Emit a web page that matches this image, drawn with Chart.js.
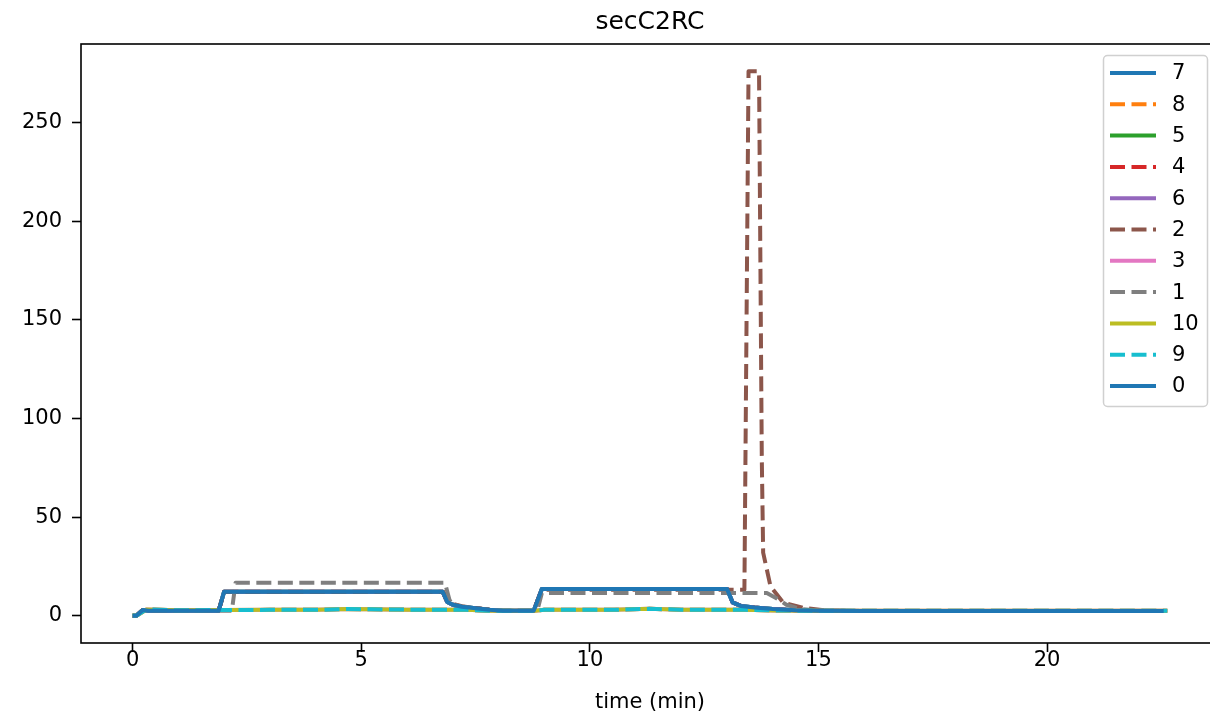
<!DOCTYPE html>
<html>
<head>
<meta charset="utf-8">
<script src="https://cdn.jsdelivr.net/npm/chart.js@4"></script>
<style>
  body { margin: 0; overflow: hidden; background: #fff; }
</style>
</head>
<body>
<canvas id="chart" width="1222" height="720"></canvas>
<script>
// values (time in min, signal)
const tBlue = [0, 0.08, 0.22, 0.35, 1.88, 2.0, 6.78, 6.88, 7.0, 7.2, 7.5, 7.8, 8.1, 8.77, 8.95, 13.0, 13.12, 13.3, 13.6, 14.0, 14.5, 15.0, 16.0, 22.55];
const vBlue = [0, 0, 2.9, 2.5, 2.5, 12.2, 12.2, 7.0, 5.6, 4.6, 3.8, 3.0, 2.5, 2.5, 13.6, 13.6, 6.8, 5.0, 4.2, 3.4, 2.8, 2.5, 2.4, 2.4];

const tLow = [0, 0.1, 0.3, 1.0, 2.0, 3.0, 4.0, 4.7, 5.2, 6.0, 6.8, 7.3, 7.8, 8.8, 9.0, 10.5, 11.3, 12.0, 13.0, 13.4, 14.0, 15.0, 22.63];
const vLow = [0, 0.3, 3.2, 2.8, 2.9, 3.0, 3.0, 3.4, 3.3, 3.1, 3.0, 3.0, 2.6, 2.5, 3.0, 3.0, 3.5, 3.1, 3.0, 3.0, 2.7, 2.5, 2.5];

const tGray = [0, 0.08, 0.22, 0.35, 2.17, 2.25, 6.83, 6.93, 7.0, 7.2, 7.5, 7.8, 8.1, 8.85, 8.95, 13.87, 14.07, 14.3, 14.6, 15.0, 16.0, 22.55];
const vGray = [0, 0, 2.9, 2.5, 2.5, 16.7, 16.7, 8.0, 5.8, 4.7, 3.8, 3.0, 2.5, 2.5, 11.6, 11.6, 9.0, 5.6, 3.5, 2.6, 2.4, 2.4];

const tBrown = [0, 0.08, 0.22, 0.35, 1.88, 2.0, 6.8, 6.9, 7.0, 7.2, 7.5, 7.8, 8.1, 8.77, 8.95, 13.0, 13.38, 13.47, 13.70, 13.76, 13.79, 13.95, 14.23, 14.66, 15.2, 16.0, 22.55];
const vBrown = [0, 0, 2.9, 2.5, 2.5, 12.0, 12.0, 7.5, 6.0, 4.8, 3.9, 3.1, 2.5, 2.5, 13.2, 13.2, 13.2, 276, 276, 80, 32, 15, 6.6, 4.0, 2.6, 2.4, 2.4];

const seriesLabels = ['7', '8', '5', '4', '6', '2', '3', '1', '10', '9', '0'];
const seriesTimes  = [tBlue, tLow, tBlue, tBlue, tBlue, tBrown, tLow, tGray, tLow, tLow, tBlue];
const seriesValues = [vBlue, vLow, vBlue, vBlue, vBlue, vBrown, vLow, vGray, vLow, vLow, vBlue];
const seriesDashed = [false, true, false, true, false, true, false, true, false, true, false];
const seriesColors = ['#1f77b4', '#ff7f0e', '#2ca02c', '#d62728', '#9467bd', '#8c564b', '#e377c2', '#7f7f7f', '#bcbd22', '#17becf', '#1f77b4'];

const xTicks = [0, 5, 10, 15, 20];
const yTicks = [0, 50, 100, 150, 200, 250];

const DASH = [15, 6.5];
const FONT = 'DejaVu Sans';
const TITLE = 'secC2RC';

const datasets = seriesLabels.map((label, i) => ({
    label: label,
    data: seriesTimes[i].map((t, j) => ({ x: t, y: seriesValues[i][j] })),
    borderColor: seriesColors[i],
    backgroundColor: seriesColors[i],
    borderWidth: 4,
    borderDash: seriesDashed[i] ? DASH : [],
    borderCapStyle: 'butt',
    borderJoinStyle: 'round',
    pointRadius: 0,
    tension: 0,
    fill: false,
    // later series drawn on top, like matplotlib
    order: seriesLabels.length - i
}));

// frame, title over the axes and legend inside them
const frameAndLegend = {
    id: 'frameAndLegend',
    afterDatasetsDraw(chart) {
        const ctx = chart.ctx;
        const a = chart.chartArea;
        ctx.save();
        ctx.strokeStyle = '#000';
        ctx.lineWidth = 1.6;
        ctx.strokeRect(a.left, a.top, a.right - a.left, a.bottom - a.top);

        ctx.fillStyle = '#000';
        ctx.font = '25px "' + FONT + '"';
        ctx.textAlign = 'center';
        ctx.textBaseline = 'alphabetic';
        ctx.fillText(TITLE, (a.left + a.right) / 2, 29);

        // legend box
        const bx = 1103.5, by = 55.5, bw = 104, bh = 351;
        ctx.beginPath();
        ctx.roundRect(bx, by, bw, bh, 4);
        ctx.fillStyle = 'rgba(255,255,255,0.8)';
        ctx.fill();
        ctx.strokeStyle = '#d0d0d0';
        ctx.lineWidth = 1.5;
        ctx.stroke();

        ctx.font = '21px "' + FONT + '"';
        ctx.textBaseline = 'middle';
        ctx.textAlign = 'left';
        seriesLabels.forEach((label, i) => {
            const y = 73 + i * 31.3;
            ctx.beginPath();
            ctx.setLineDash(seriesDashed[i] ? DASH : []);
            ctx.lineCap = 'butt';
            ctx.strokeStyle = seriesColors[i];
            ctx.lineWidth = 4;
            ctx.moveTo(1110, y);
            ctx.lineTo(1156, y);
            ctx.stroke();
            ctx.setLineDash([]);
            ctx.fillStyle = '#000';
            ctx.fillText(label, 1172, y + 1);
        });
        ctx.restore();
    }
};

new Chart(document.getElementById('chart'), {
    type: 'line',
    data: { datasets: datasets },
    options: {
        responsive: false,
        animation: false,
        devicePixelRatio: 1,
        layout: { padding: { left: 0, right: 3, top: 44, bottom: 0 } },
        plugins: {
            legend: { display: false },
            tooltip: { enabled: false },
            title: { display: false }
        },
        scales: {
            x: {
                type: 'linear',
                min: -1.13,
                max: 23.76,
                afterBuildTicks: s => { s.ticks = xTicks.map(v => ({ value: v })); },
                afterFit: s => { s.height = 77; },
                ticks: { color: '#000', font: { family: FONT, size: 21 }, padding: -4, autoSkip: false, maxRotation: 0 },
                grid: { display: true, drawOnChartArea: false, drawTicks: true, tickLength: 9, tickWidth: 1.6, tickColor: '#000' },
                border: { display: false },
                title: { display: true, text: 'time (min)', color: '#000', font: { family: FONT, size: 21 }, padding: { top: 4, bottom: 5 } }
            },
            y: {
                type: 'linear',
                min: -13.8,
                max: 289.8,
                afterBuildTicks: s => { s.ticks = yTicks.map(v => ({ value: v })); },
                afterFit: s => { s.width = 81; },
                ticks: { color: '#000', font: { family: FONT, size: 21 }, padding: 10 },
                grid: { display: true, drawOnChartArea: false, drawTicks: true, tickLength: 9, tickWidth: 1.6, tickColor: '#000' },
                border: { display: false }
            }
        }
    },
    plugins: [frameAndLegend]
});
</script>
</body>
</html>
